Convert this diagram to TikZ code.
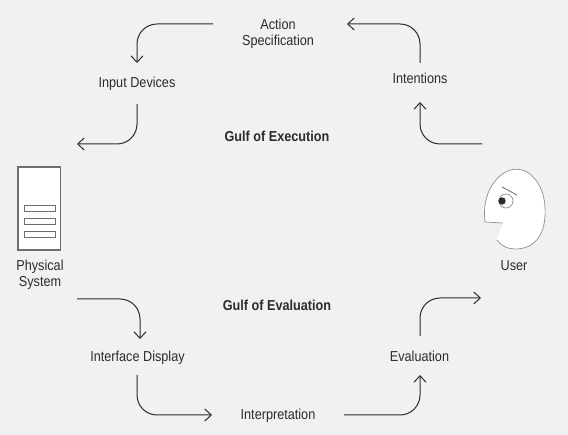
\documentclass[tikz,border=0pt]{standalone}
\usepackage{fontspec}
\setmainfont{Liberation Sans}
\usetikzlibrary{arrows.meta}
\definecolor{bg}{HTML}{F1F1F1}
\definecolor{ink}{HTML}{2B2B2B}
\definecolor{boxline}{HTML}{6E6E6E}
\definecolor{faceline}{HTML}{8F8F8F}
\tikzset{
  lab/.style={font=\fontsize{14.4}{16}\selectfont, text=ink, align=center, inner sep=0pt, xscale=0.88},
  gulf/.style={font=\fontsize{14.4}{16}\selectfont\bfseries, text=ink, align=center, inner sep=0pt, xscale=0.88},
  flow/.style={draw=ink, line width=1pt, rounded corners=20pt, -{Straight Barb[length=6.5pt,width=12pt,line width=1pt]}},
  panel/.style={draw=boxline, fill=white, line width=1.1pt},
  face/.style={draw=faceline, line width=0.7pt}
}
\begin{document}
\begin{tikzpicture}[x=1pt,y=-1pt]
\useasboundingbox[fill=bg] (0,0) rectangle (568,435);
% labels
\node[lab] (action) at (278,33.5) {Action\\Specification};
\node[lab] (input) at (137,84) {Input Devices};
\node[lab] (intent) at (420,78.5) {Intentions};
\node[gulf] (exec) at (277,136.5) {Gulf of Execution};
\node[gulf] (eval) at (277,305.5) {Gulf of Evaluation};
\node[lab] (phys) at (40,274.5) {Physical\\System};
\node[lab] (user) at (514,265.5) {User};
\node[lab] (disp) at (137.5,357.5) {Interface Display};
\node[lab] (evalu) at (419.5,356.5) {Evaluation};
\node[lab] (interp) at (278,415.5) {Interpretation};
% free ends
\coordinate (a1) at (213,24); \coordinate (a2) at (137,63);
\coordinate (b1) at (137,104); \coordinate (b2) at (77,144);
\coordinate (c1) at (77,299); \coordinate (c2) at (140,339);
\coordinate (d1) at (137,375); \coordinate (d2) at (212,415);
\coordinate (e1) at (344,415); \coordinate (e2) at (420,375);
\coordinate (f1) at (420,336); \coordinate (f2) at (481,298);
\coordinate (g1) at (482,144); \coordinate (g2) at (420,102);
\coordinate (h1) at (420,63); \coordinate (h2) at (347,24);
% connectors
\draw[flow] (a1) -| (a2);
\draw[flow] (b1) |- (b2);
\draw[flow] (c1) -| (c2);
\draw[flow] (d1) |- (d2);
\draw[flow] (e1) -| (e2);
\draw[flow] (f1) |- (f2);
\draw[flow] (g1) -| (g2);
\draw[flow] (h1) |- (h2);
% physical system
\draw[panel] (18,167) rectangle (60.5,250);
\foreach \y in {207,220,233}
  \draw[panel, line width=1pt] (24,\y-1) rectangle (55,\y+5);
% user
\fill[white] (485,222)
  .. controls (483,205) and (487,190) .. (496,180)
  .. controls (506,168) and (520,166) .. (530,174)
  .. controls (541,183) and (546,198) .. (545,216)
  .. controls (544,235) and (535,249) .. (515,249)
  .. controls (508,249) and (501,246) .. (497,240)
  -- (503,223) -- cycle;
\draw[face] (503,223) -- (485,222)
  .. controls (483,205) and (487,190) .. (496,180)
  .. controls (506,168) and (520,166) .. (530,174)
  .. controls (541,183) and (546,198) .. (545,216)
  .. controls (544,235) and (535,249) .. (515,249)
  .. controls (508,249) and (501,246) .. (497,240);
\draw[ink!70, line width=0.8pt] (502,187) -- (517,195);
\coordinate (eye) at (506,201);
\draw[face, fill=white] (eye) circle[radius=7pt];
\fill[ink] (502,201) circle[radius=3.7pt];
\end{tikzpicture}
\end{document}
